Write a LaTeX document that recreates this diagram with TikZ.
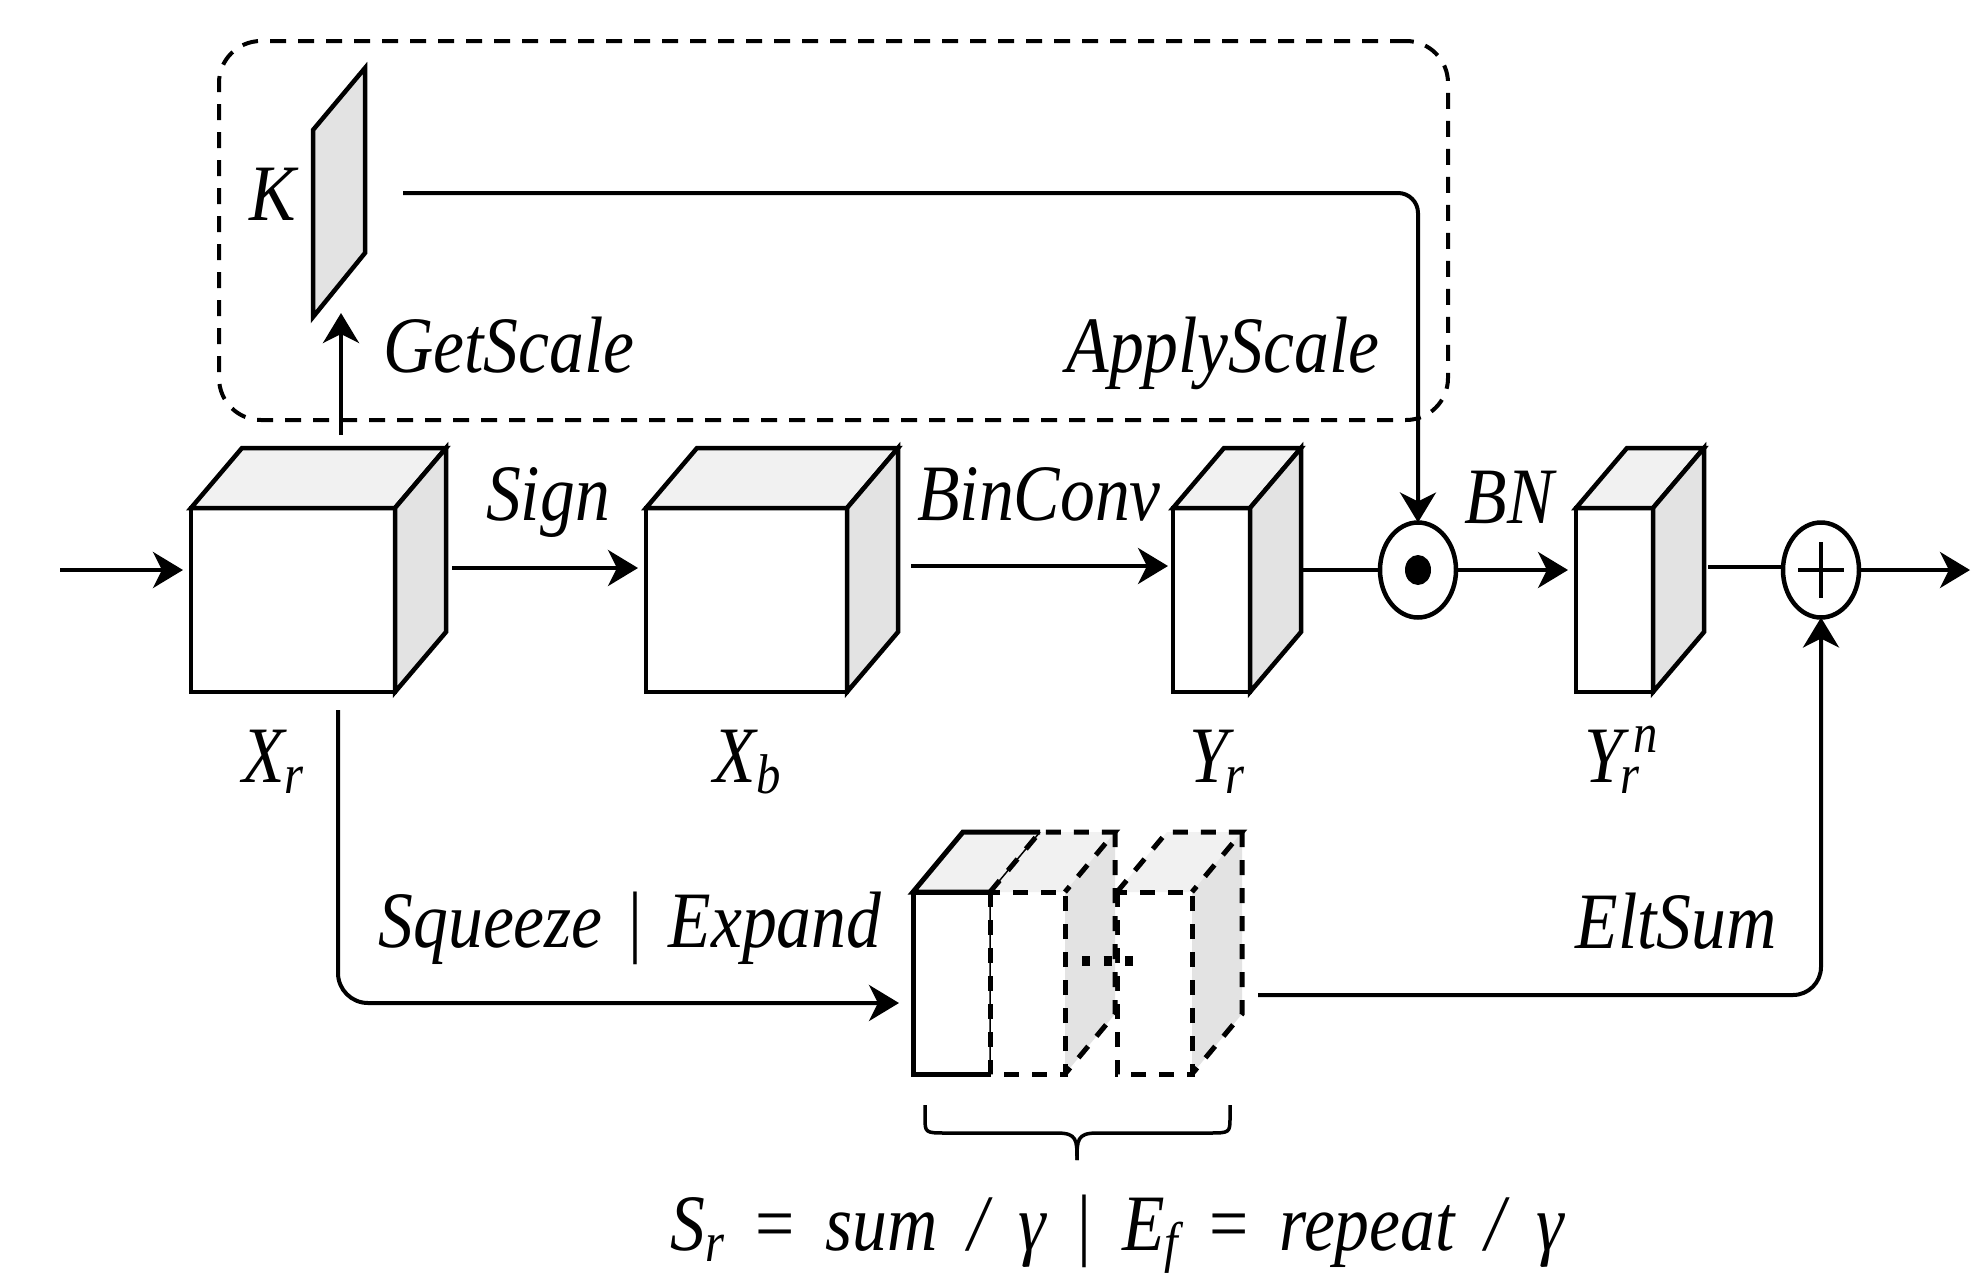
\documentclass[tikz,border=0pt]{standalone}
\usepackage{fontspec}
\setmainfont{Liberation Serif}[FakeStretch=0.87]
\usetikzlibrary{arrows.meta,calc,shapes.geometric}

\definecolor{topgray}{RGB}{241,241,241}
\definecolor{sidegray}{RGB}{227,227,227}

% small index letters
\newcommand\idx[1]{{\fontsize{56}{60}\selectfont #1}}
\newcommand\lowidx[1]{\raisebox{-11pt}{\idx{#1}}}
% wide gap between the parts of a formula
\newcommand\gap{\hspace{31pt}}

% top and side faces of a box whose front face is the node #1
\newcommand\cubesides[3]{%
  \draw[face, fill=topgray] (#1.north west) -- ++(#2,#3) -- ($(#1.north east)+(#2,#3)$) -- (#1.north east) -- cycle;
  \draw[face, fill=sidegray] (#1.north east) -- ++(#2,#3) -- ($(#1.south east)+(#2,#3)$) -- (#1.south east) -- cycle;}

\tikzset{
  lab/.style={font=\fontsize{80}{90}\selectfont\itshape, inner sep=0pt, anchor=base},
  face/.style={draw=black, line width=4.5pt},
  front/.style={draw, fill=white, line width=4.5pt, inner sep=0pt, outer sep=0pt, minimum height=184pt},
  ghost/.style={line width=5pt, dash pattern=on 15pt off 13pt},
  conn/.style={line width=4pt},
  arr/.style={conn, -{Stealth[length=30pt,width=36pt,inset=9pt]}},
  op/.style={ellipse, draw, line width=4.5pt, minimum width=76pt, minimum height=95pt, inner sep=0pt, outer sep=0pt},
}

\begin{document}
\begin{tikzpicture}[x=1pt, y=-1pt]
\useasboundingbox[fill=white] (0,0) rectangle (1974,1282);

% scaling branch frame
\node[draw, line width=4pt, dash pattern=on 16pt off 12pt, rounded corners=42pt,
      minimum width=1229pt, minimum height=379pt, inner sep=0pt] (frame) at (833.5,230.5) {};

% scale plane K
\draw[face, fill=sidegray] (313,317) -- (313,130) -- (365,68) -- (365,253) -- cycle;
\node[lab] (klab) at (273,220) {K};

% main tensors
\node[front, minimum width=204pt] (xr) at (293,600) {};
\cubesides{xr}{51}{-60}
\node[front, minimum width=201pt] (xb) at (746.5,600) {};
\cubesides{xb}{51}{-60}
\node[front, minimum width=77pt] (yr) at (1211.5,600) {};
\cubesides{yr}{51}{-60}
\node[front, minimum width=77pt] (yrn) at (1614.5,600) {};
\cubesides{yrn}{51}{-60}

% operators
\node[op] (odot) at (1418,570) {};
\fill (odot.center) ellipse [x radius=13pt, y radius=15pt];
\node[op] (oplus) at (1821,570) {};
\draw[line width=4.5pt] ($(oplus.center)+(-23,0)$) -- ($(oplus.center)+(23,0)$)
                        ($(oplus.center)+(0,-28)$) -- ($(oplus.center)+(0,28)$);

% squeezed / expanded stack
\node[inner sep=0pt, outer sep=0pt, fill=white, minimum width=77pt, minimum height=182pt] (slab) at (951.5,983) {};
\fill[topgray] (slab.north west) -- ++(50,-60) -- ($(slab.north east)+(50,-60)$) -- (slab.north east) -- cycle;
\foreach \b/\c in {boxb/1154.5, boxa/1027.5}{
  \node[inner sep=0pt, outer sep=0pt, fill=white, minimum width=75pt, minimum height=182pt] (\b) at (\c,983) {};
  \fill[topgray] (\b.north west) -- ++(50,-60) -- ($(\b.north east)+(50,-60)$) -- (\b.north east) -- cycle;
  \fill[sidegray] (\b.north east) -- ++(50,-60) -- ($(\b.south east)+(50,-60)$) -- (\b.south east) -- cycle;
  \draw[ghost] (\b.north west) rectangle (\b.south east);
  \draw[ghost] (\b.north west) -- ++(50,-60) -- ($(\b.north east)+(50,-60)$) -- (\b.north east);
  \draw[ghost] ($(\b.north east)+(50,-60)$) -- ($(\b.south east)+(50,-60)$) -- (\b.south east);
}
\draw[line width=5pt, line join=miter] (slab.south east) -- (slab.south west) -- (slab.north west) -- (slab.north east);
\draw[line width=5pt, line join=miter] (slab.north east) -- (slab.north west) -- ++(50,-60) -- ($(slab.north east)+(50,-60)$);
\draw[line width=1.5pt] (slab.north east) -- (slab.south east)
                        (slab.north east) -- ++(50,-60);
\draw[line width=10pt, dash pattern=on 8pt off 13.5pt] (1082,961) -- (1134,961);

% brace under the stack
\coordinate (bl) at (925,1105);
\coordinate (br) at (1230,1105);
\coordinate (bt) at (1077,1160);
\draw[line width=3.5pt]
  (bl) -- ++(0,12) .. controls (925,1133) .. (947,1133) -- (1057,1133)
       .. controls (1077,1133) and (1077,1140) .. (bt);
\draw[line width=3.5pt]
  (br) -- ++(0,12) .. controls (1230,1133) .. (1208,1133) -- (1097,1133)
       .. controls (1077,1133) and (1077,1140) .. (bt);

% free ends of the connectors
\coordinate (in) at (60,570);
\coordinate (out) at (1970,570);
\coordinate (gs0) at (341,435);
\coordinate (gs1) at (341,313);
\coordinate (k0) at (403,193);
\coordinate (sq0) at (338,710);
\coordinate (el0) at (1258,995);

% main path
\draw[arr, shorten >=8pt] (in) -- ($(xr.west)+(0,-30)$);
\draw[arr, shorten <=6pt, shorten >=8pt] ($(xr.east)+(51,-32)$) -- ($(xb.west)+(0,-32)$);
\draw[arr, shorten <=13pt, shorten >=5pt] ($(xb.east)+(51,-34)$) -- ($(yr.west)+(0,-34)$);
\draw[conn] ($(yr.east)+(51,-30)$) -- (odot.west);
\draw[arr, shorten >=8pt] (odot.east) -- ($(yrn.west)+(0,-30)$);
\draw[conn, shorten <=4pt] ($(yrn.east)+(51,-33)$) -- ($(oplus.west)+(0,-3)$);
\draw[arr] (oplus.east) -- (out);

% scaling branch
\draw[arr] (gs0) -- (gs1);
\draw[arr, rounded corners=20pt] (k0) -| (odot.north);

% squeeze / expand branch
\draw[arr, rounded corners=30pt] (sq0) |- ($(slab.west)+(-14,20)$);
\draw[arr, rounded corners=28pt] (el0) -| (oplus.south);

% labels
\node[lab] (lgs) at (509,372) {GetScale};
\node[lab] (las) at (1223,372) {ApplyScale};
\node[lab] (lsign) at (548,520) {Sign};
\node[lab] (lbin) at (1039,520) {BinConv};
\node[lab] (lbn) at (1509,523) {BN};
\node[lab] (lxr) at (273,782) {X\lowidx{r}};
\node[lab] (lxb) at (747,782) {X\lowidx{b}};
\node[lab] (lyr) at (1217,782) {Y\kern-3pt\lowidx{r}};
\node[lab] (lyrn) at (1621,782) {Y\kern-3pt\rlap{\lowidx{r}}\kern13pt\raisebox{30pt}{\idx{n}}};
\node[lab] (lsq) at (630,947) {Squeeze\hspace{26pt}{\upshape|}\hspace{26pt}Expand};
\node[lab] (lelt) at (1676,948) {EltSum};
\node[lab] (lform) at (1117,1250)
  {S\lowidx{r}\gap{\upshape=}\gap sum\gap/\gap γ\gap{\upshape|}\gap E\lowidx{f}\gap{\upshape=}\gap repeat\gap/\gap γ};
\end{tikzpicture}
\end{document}
